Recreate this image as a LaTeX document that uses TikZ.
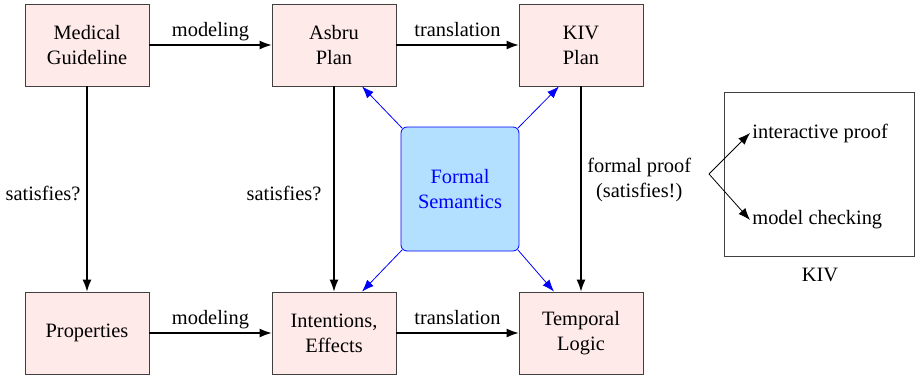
\documentclass[tikz,border=0pt]{standalone}
\usepackage{fontspec}
\setmainfont{Liberation Serif}
\usepackage{tikz}
\usetikzlibrary{arrows.meta, positioning}

\definecolor{boxpink}{RGB}{255,234,234}
\definecolor{semblue}{RGB}{180,224,255}

\tikzset{
  stage/.style={draw=black!75, fill=boxpink, minimum width=62pt, minimum height=41pt,
    inner sep=0pt, align=center, font=\fontsize{10.2}{12.5}\selectfont},
  lbl/.style={font=\fontsize{10.2}{12.5}\selectfont, inner sep=1pt},
  edgelbl/.style={lbl, above, text height=7pt, text depth=2pt, inner sep=2pt},
  flow/.style={-{Latex[length=6pt, width=4.5pt]}, semithick},
  sem/.style={-{Latex[length=6pt, width=4.5pt]}, blue}
}

\begin{document}
\begin{tikzpicture}[x=0.5pt, y=-0.5pt]
  \useasboundingbox (0,0) rectangle (915,376);

  % top row
  \node[stage] (guide) at (87,45) {Medical\\Guideline};
  \node[stage] (asbru) at (334,45) {Asbru\\Plan};
  \node[stage] (kivplan) at (581,45) {KIV\\Plan};

  % bottom row
  \node[stage] (props) at (87,333) {Properties};
  \node[stage] (intent) at (334,333) {Intentions,\\Effects};
  \node[stage] (temporal) at (581,333) {Temporal\\Logic};

  % formal semantics in the middle
  \node[draw=blue, fill=semblue, rounded corners=3pt, minimum width=59pt, minimum height=62pt,
    align=center, text=blue, font=\fontsize{10.2}{12.5}\selectfont] (sem) at (460,189) {Formal\\Semantics};

  % horizontal arrows
  \draw[flow] (guide) -- node[edgelbl] {modeling} (asbru);
  \draw[flow] (asbru) -- node[edgelbl] {translation} (kivplan);
  \draw[flow] (props) -- node[edgelbl] {modeling} (intent);
  \draw[flow] (intent) -- node[edgelbl] {translation} (temporal);

  % vertical arrows
  \draw[flow] (guide) -- (props);
  \node[lbl] (sat1) at (43,193) {satisfies?};
  \draw[flow] (asbru) -- (intent);
  \node[lbl] (sat2) at (284,193) {satisfies?};
  \draw[flow] (kivplan) -- (temporal);
  \node[lbl, align=center, anchor=west] (proof) at (585,180) {formal proof\\(satisfies!)};

  % semantics arrows
  \coordinate (s1) at ([shift={(1.5,1.5)}]sem.north west);
  \coordinate (s2) at ([shift={(-1.5,1.5)}]sem.north east);
  \coordinate (s3) at ([shift={(1.5,-1.5)}]sem.south west);
  \coordinate (s4) at ([shift={(-1.5,-1.5)}]sem.south east);
  \draw[sem] (s1) -- ([xshift=14pt]asbru.south);
  \draw[sem] (s2) -- ([xshift=-11pt]kivplan.south);
  \draw[sem] (s3) -- ([xshift=14pt]intent.north);
  \draw[sem] (s4) -- ([xshift=-13.5pt]temporal.north);

  % KIV box
  \node[draw=black!75, minimum width=95pt, minimum height=82pt, inner sep=0pt] (kiv) at (819,174) {};
  \node[lbl] (kivname) at (820,275) {KIV};
  \node[lbl, anchor=west] (inter) at (750,133) {interactive proof};
  \node[lbl, anchor=west] (check) at (750,220) {model checking};
  \coordinate (split) at (709,174);
  \draw[-{Latex[length=6pt, width=4.5pt]}] (split) -- (inter.west);
  \draw[-{Latex[length=6pt, width=4.5pt]}] (split) -- (check.west);
\end{tikzpicture}
\end{document}
